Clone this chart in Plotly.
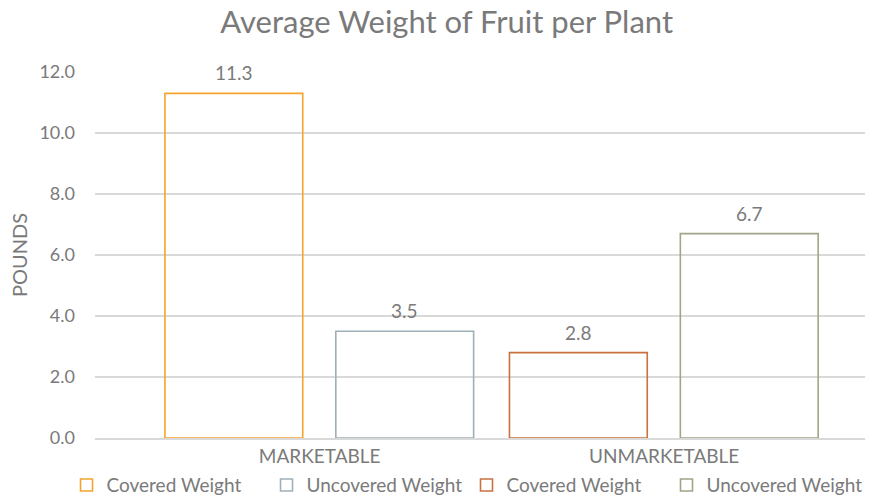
import plotly.graph_objects as go

categories = ["MARKETABLE", "UNMARKETABLE"]
series_names = ["Covered Weight", "Uncovered Weight", "Covered Weight", "Uncovered Weight"]
series_cats = ["MARKETABLE", "MARKETABLE", "UNMARKETABLE", "UNMARKETABLE"]
series_values = [11.3, 3.5, 2.8, 6.7]
series_colors = ["#F4A42C", "#9EB0B7", "#C9723F", "#A0A586"]
series_offsets = [-0.449, 0.047, -0.449, 0.047]
BAR_W = 0.4

TXT = "#7a7a7a"
FONT = "Lato, 'Open Sans', sans-serif"

fig = go.Figure()
for name, cat, val, col, off in zip(series_names, series_cats, series_values, series_colors, series_offsets):
    fig.add_trace(go.Bar(
        x=[cat], y=[val], name=name,
        width=BAR_W, offset=off,
        marker=dict(color="rgba(255,255,255,0)", line=dict(color=col, width=1.6)),
        hoverinfo="x+y",
    ))
    fig.add_annotation(
        x=categories.index(cat) + off + BAR_W / 2, y=val,
        xref="x", yref="y", text=f"{val:.1f}", showarrow=False,
        yanchor="bottom", yshift=7,
        font=dict(size=19, color=TXT, family=FONT),
    )

fig.update_layout(
    width=881, height=497,
    paper_bgcolor="white", plot_bgcolor="white",
    margin=dict(l=95, r=16, t=72, b=59, autoexpand=False),
    barmode="overlay",
    title=dict(text="Average Weight of Fruit per Plant", x=0.507, xanchor="center",
               y=0.955, yanchor="middle",
               font=dict(size=31, color=TXT, family=FONT)),
    font=dict(family=FONT, color=TXT),
    xaxis=dict(type="category", categoryorder="array", categoryarray=categories,
               range=[-0.652, 1.583], showgrid=False,
               showline=True, linecolor="#d9d9d9", linewidth=1.5,
               ticks="", tickfont=dict(size=19, color=TXT, family=FONT)),
    yaxis=dict(range=[0, 12], dtick=2, tickformat=".1f",
               showgrid=True, gridcolor="#d9d9d9", gridwidth=1.5,
               zeroline=False, ticks="", ticklen=0, ticklabelstandoff=19,
               tickfont=dict(size=18, color=TXT, family=FONT),
               title=dict(text="POUNDS", font=dict(size=20, color=TXT, family=FONT), standoff=6)),
    legend=dict(orientation="h", x=-0.037, xanchor="left", y=-0.077, yanchor="top",
                font=dict(size=19, color=TXT, family=FONT),
                itemwidth=30, entrywidth=155, entrywidthmode="pixels",
                traceorder="normal", bgcolor="rgba(0,0,0,0)"),
    showlegend=True,
)

fig.write_html("out.html", config={"displayModeBar": False},
               post_script="document.body.style.margin='0';document.body.style.overflow='hidden';")
